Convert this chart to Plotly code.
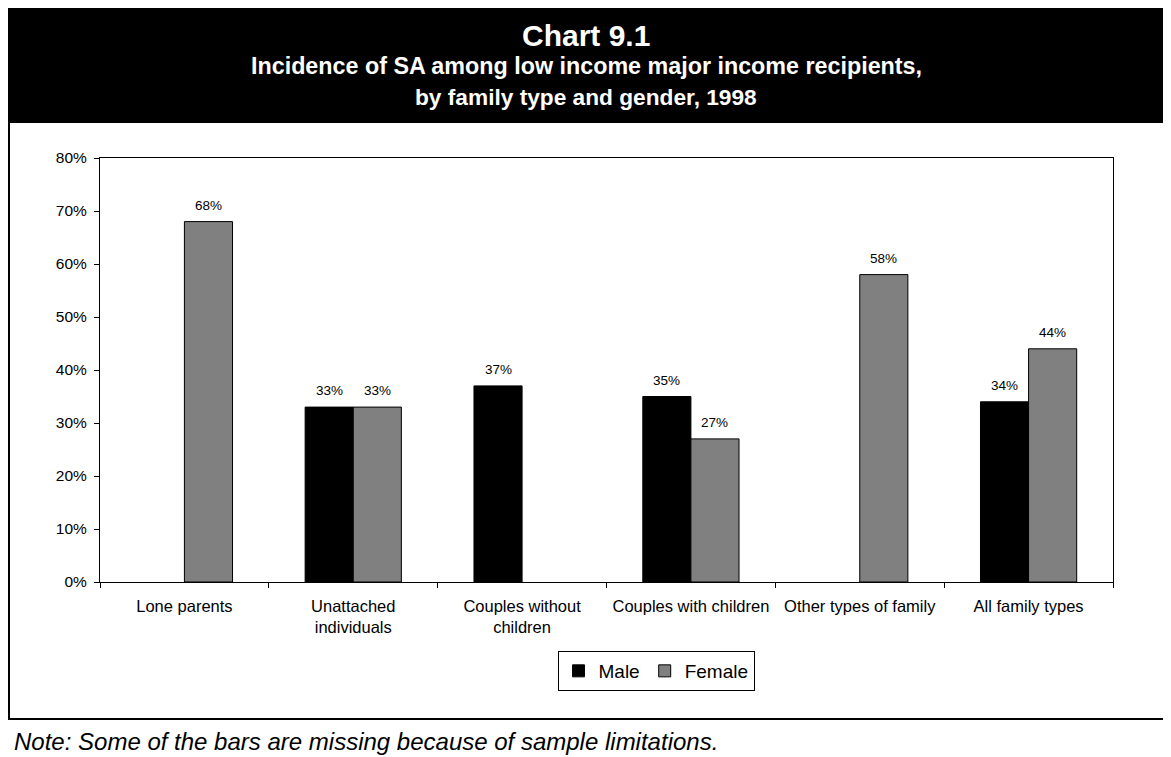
import plotly.graph_objects as go

categories = ["Lone parents", "Unattached<br>individuals", "Couples without<br>children",
              "Couples with children", "Other types of family", "All family types"]
male = [None, 33, 37, 35, None, 34]
female = [68, 33, None, 27, 58, 44]
y_ticks = [0, 10, 20, 30, 40, 50, 60, 70, 80]
y_tick_labels = [f"{v}%" for v in y_ticks]

title_line1 = "Chart 9.1"
title_line2 = "Incidence of SA among low income major income recipients,"
title_line3 = "by family type and gender, 1998"
note = "Note: Some of the bars are missing because of sample limitations."

# The page body adds an 8px margin, so figure coords = reference coords - 8
OFF = 8
W, H = 1171, 757
PLOT_L, PLOT_R, PLOT_T, PLOT_B = 100, 1113, 158, 582   # reference pixel coords
ML = PLOT_L - OFF
MT = PLOT_T - OFF
MR = W - (PLOT_R - OFF)
MB = H - (PLOT_B - OFF)
PW = PLOT_R - PLOT_L
PH = PLOT_B - PLOT_T
BARGAP = 0.43


def px(x):
    return (x - PLOT_L) / PW


def py(y):
    return (PLOT_B - y) / PH


FONT = "Arial, Liberation Sans, sans-serif"

fig = go.Figure()
fig.add_trace(go.Bar(
    name="Male", x=categories, y=male,
    marker=dict(color="#000000", line=dict(color="#000000", width=1)),
))
fig.add_trace(go.Bar(
    name="Female", x=categories, y=female,
    marker=dict(color="#808080", line=dict(color="#000000", width=1)),
))

shapes = [
    # outer frame
    dict(type="rect", xref="paper", yref="paper", x0=px(9), x1=px(1195), y0=py(122), y1=py(719),
         line=dict(color="#000000", width=2), fillcolor="rgba(0,0,0,0)", layer="below"),
    # header band
    dict(type="rect", xref="paper", yref="paper", x0=px(7), x1=px(1195), y0=py(0), y1=py(123),
         line=dict(width=0), fillcolor="#000000", layer="above"),
]

annotations = [
    dict(text=f"<b>{title_line1}</b>", x=px(586), y=py(35), xref="paper", yref="paper",
         xanchor="center", yanchor="middle", showarrow=False,
         font=dict(size=30, color="#ffffff", family=FONT)),
    dict(text=f"<b>{title_line2}</b>", x=px(586), y=py(66), xref="paper", yref="paper",
         xanchor="center", yanchor="middle", showarrow=False,
         font=dict(size=23.3, color="#ffffff", family=FONT)),
    dict(text=f"<b>{title_line3}</b>", x=px(586), y=py(97), xref="paper", yref="paper",
         xanchor="center", yanchor="middle", showarrow=False,
         font=dict(size=22.7, color="#ffffff", family=FONT)),
    dict(text=f"<i>{note}</i>", x=px(12), y=py(741), xref="paper", yref="paper",
         xanchor="left", yanchor="middle", showarrow=False,
         font=dict(size=24, color="#000000", family=FONT)),
]

# value labels above each bar
slot = PW / len(categories)
half_bar = slot * (1 - BARGAP) / 4
for series, shift in ((male, -half_bar), (female, half_bar)):
    for cat, val in zip(categories, series):
        if val is None:
            continue
        annotations.append(dict(
            text=f"{val}%", x=cat, y=val, xref="x", yref="y",
            xshift=shift, yshift=7, xanchor="center", yanchor="bottom", showarrow=False,
            font=dict(size=13.5, color="#000000", family=FONT)))

fig.update_layout(
    width=W, height=H,
    margin=dict(l=ML, r=MR, t=MT, b=MB, pad=0),
    paper_bgcolor="#ffffff", plot_bgcolor="#ffffff",
    barmode="group", bargap=BARGAP, bargroupgap=0,
    font=dict(family=FONT, color="#000000"),
    showlegend=True,
    legend=dict(orientation="h", x=px(656), xanchor="center", y=py(651), yanchor="top",
                bordercolor="#000000", borderwidth=1, bgcolor="#ffffff",
                font=dict(size=19, family=FONT, color="#000000"),
                traceorder="normal"),
    shapes=shapes, annotations=annotations,
)

fig.update_xaxes(
    type="category", tickson="boundaries", ticks="outside", ticklen=5, tickcolor="#000000",
    showline=True, linecolor="#000000", linewidth=1, mirror=True,
    showgrid=False, tickfont=dict(size=16.5, family=FONT, color="#000000"),
    ticklabelstandoff=9,
)
fig.update_yaxes(
    range=[0, 80], tickvals=y_ticks, ticktext=y_tick_labels,
    ticks="outside", ticklen=5, tickcolor="#000000",
    showline=True, linecolor="#000000", linewidth=1, mirror=True,
    showgrid=False, zeroline=False, tickfont=dict(size=15.5, family=FONT, color="#000000"),
    ticklabelstandoff=4,
)

fig.write_html("out.html")
